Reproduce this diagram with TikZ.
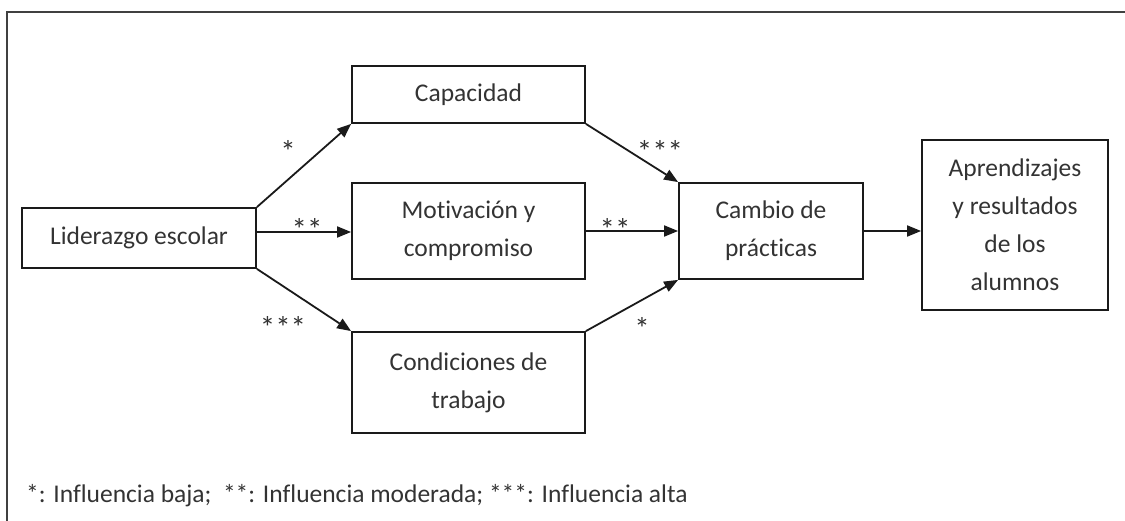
\documentclass[tikz,border=0pt]{standalone}
\usepackage{fontspec}
\setmainfont{Carlito}[Ligatures=NoCommon]
\usetikzlibrary{arrows.meta}
\definecolor{txt}{HTML}{333333}
\definecolor{ln}{HTML}{1a1a1a}
\definecolor{frame}{HTML}{404040}
\begin{document}
\begin{tikzpicture}[x=1pt,y=-1pt,
  box/.style={draw=ln, line width=1.8pt, text=txt, align=center, inner sep=0pt,
              font=\fontsize{25.5}{38}\selectfont},
  arr/.style={draw=ln, line width=1.8pt, -{Triangle[length=14pt,width=11pt]}},
  lab/.style={text=txt, inner sep=0pt, font=\fontsize{31}{34}\selectfont},
  foottext/.style={text=txt, inner sep=0pt, font=\fontsize{25.5}{30}\selectfont}]
\useasboundingbox (0,0) rectangle (1125,521);
\draw[line width=2pt, draw=frame] (1125,12) -- (7,12) -- (7,521);

\node[box, minimum width=234pt, minimum height=60pt] (lid) at (139,238) {Liderazgo escolar};
\node[box, minimum width=233pt, minimum height=57pt] (cap) at (468.5,94.5) {Capacidad};
\node[box, minimum width=233pt, minimum height=96pt] (mot) at (468.5,231) {Motivación y\\compromiso};
\node[box, minimum width=233pt, minimum height=101pt] (con) at (468.5,382.5) {Condiciones de\\trabajo};
\node[box, minimum width=184pt, minimum height=96pt] (cam) at (771,231) {Cambio de\\práct\kern0pt icas};
\node[box, minimum width=186pt, minimum height=170pt] (apr) at (1015,225) {Aprendizajes\\y resultados\\de los\\alumnos};

\coordinate (lidm) at ([yshift=6pt]lid.east);
\draw[arr] (lid.north east) -- (cap.south west);
\draw[arr] (lidm) -- (lidm -| mot.west);
\draw[arr] (lid.south east) -- (con.north west);
\draw[arr] (cap.south east) -- (cam.north west);
\draw[arr] (mot.east) -- (cam.west);
\draw[arr] (con.north east) -- (cam.south west);
\draw[arr] (cam.east) -- (cam.east -| apr.west);

\node[lab] (s1) at (288,151) {*};
\node[lab] (s2) at (307,229) {**};
\node[lab] (s3) at (283,327) {***};
\node[lab] (s4) at (660,151) {***};
\node[lab] (s5) at (615,229) {**};
\node[lab] (s6) at (642,328) {*};

\node[foottext, anchor=base west] (foot) at (26,502) {*: Influencia baja;\ \ **: Influencia moderada; ***: Influencia alta};
\end{tikzpicture}
\end{document}
